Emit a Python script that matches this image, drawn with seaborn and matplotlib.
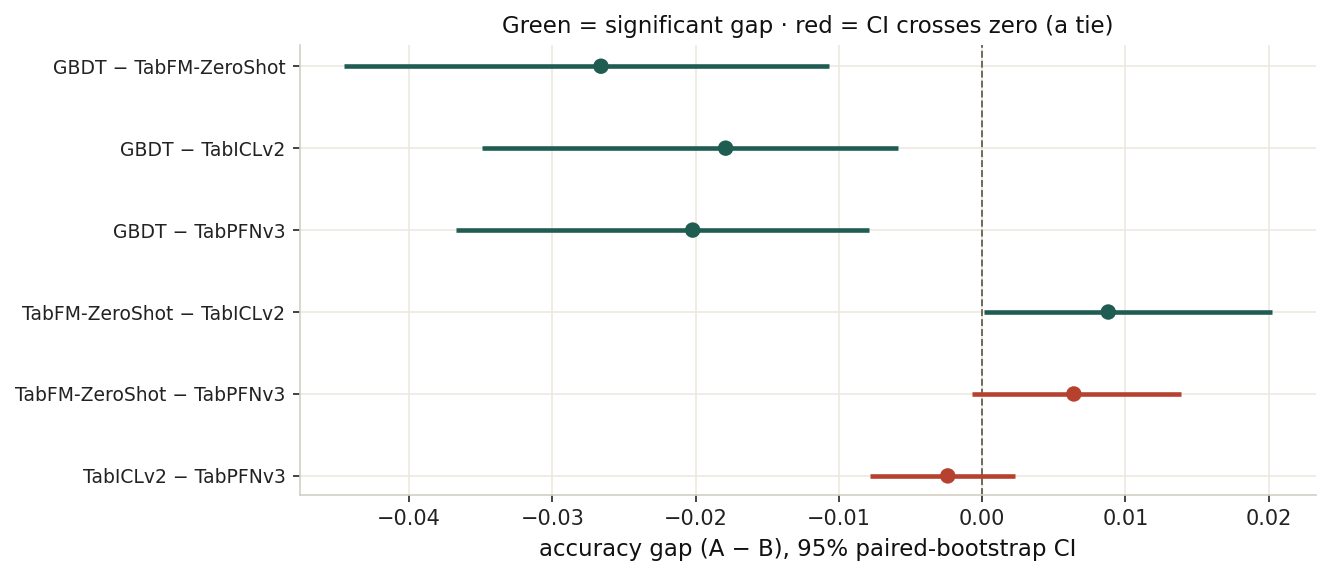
import numpy as np
import pandas as pd
import matplotlib
matplotlib.use("Agg")
import matplotlib.pyplot as plt
import seaborn as sns

# paired differences (A - B) with 95% bootstrap CI
pairs = [
    "GBDT \u2212 TabFM-ZeroShot",
    "GBDT \u2212 TabICLv2",
    "GBDT \u2212 TabPFNv3",
    "TabFM-ZeroShot \u2212 TabICLv2",
    "TabFM-ZeroShot \u2212 TabPFNv3",
    "TabICLv2 \u2212 TabPFNv3",
]
gap = [-0.0266, -0.0179, -0.0202, 0.0088, 0.0064, -0.0024]
ci_low = [-0.0445, -0.0349, -0.0367, 0.0001, -0.0007, -0.0078]
ci_high = [-0.0107, -0.0059, -0.0079, 0.0202, 0.0139, 0.0023]

df = pd.DataFrame({"pair": pairs, "gap": gap, "lo": ci_low, "hi": ci_high})
df["sig"] = np.where((df["lo"] > 0) | (df["hi"] < 0), "sig", "tie")
df["y"] = np.arange(len(df))

GREEN = "#1f5c52"
RED = "#b5412e"
palette = {"sig": GREEN, "tie": RED}

sns.set_style("whitegrid", {
    "grid.color": "#ebe9e0",
    "axes.edgecolor": "#d3cfc4",
    "xtick.bottom": True,
    "ytick.left": True,
    "text.color": "#111111",
    "axes.labelcolor": "#111111",
    "xtick.color": "#222222",
    "ytick.color": "#222222",
})
plt.rcParams["font.family"] = ["DejaVu Sans"]

fig, ax = plt.subplots(figsize=(1330 / 150, 580 / 150), dpi=150)

for _, r in df.iterrows():
    ax.hlines(r["y"], r["lo"], r["hi"], color=palette[r["sig"]], lw=2.2, zorder=2)

sns.scatterplot(data=df, x="gap", y="y", hue="sig", palette=palette,
                s=55, edgecolor="none", legend=False, ax=ax, zorder=3)

ax.axvline(0, color="#6b6558", lw=0.9, ls="--", zorder=1)

ax.set_yticks(df["y"])
ax.set_yticklabels(df["pair"], fontsize=9)
ax.set_ylim(len(df) - 0.77, -0.256)
ax.set_xlim(-0.0476, 0.0233)
ax.tick_params(axis="x", labelsize=10, length=3.5)
ax.tick_params(axis="y", length=3.5)
ax.set_xlabel("accuracy gap (A \u2212 B), 95% paired-bootstrap CI", fontsize=11)
ax.set_ylabel("")
ax.set_title("Green = significant gap \u00b7 red = CI crosses zero (a tie)", fontsize=11)
sns.despine(ax=ax)

fig.subplots_adjust(left=0.2256, right=0.9895, top=0.922, bottom=0.147)
fig.savefig("out.png", dpi=150)
